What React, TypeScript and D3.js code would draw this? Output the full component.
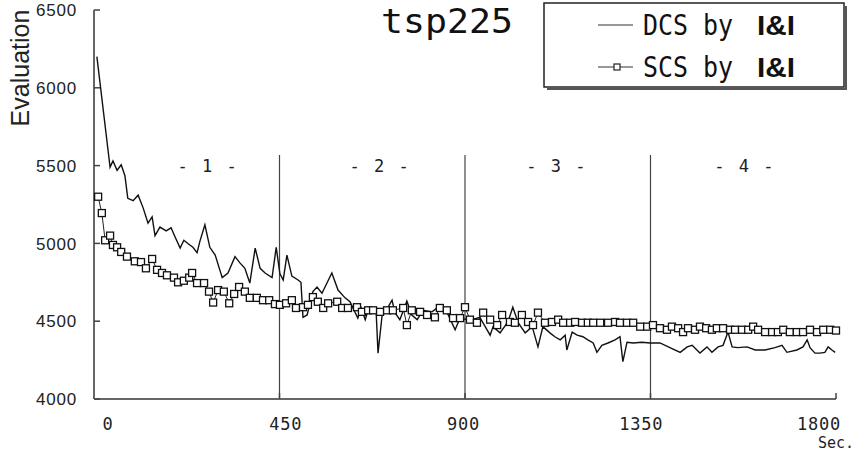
import React from 'react';
import * as d3 from 'd3';

// DCS by I&I : [seconds, evaluation]
const dcsSeries: [number, number][] = [
  [7, 6200], [34, 5600], [39, 5490], [46, 5530], [56, 5470], [66, 5505], [75, 5435], [82, 5290],
  [95, 5275], [107, 5310], [119, 5230], [131, 5130], [141, 5170], [148, 5050], [160, 5105], [175, 5080],
  [187, 5100], [197, 5040], [209, 4970], [218, 5020], [230, 4995], [240, 4975], [250, 4940], [257, 5015],
  [269, 5120], [281, 4975], [294, 4925], [311, 4780], [325, 4810], [342, 4915], [354, 4875], [366, 4840],
  [378, 4745], [391, 4970], [403, 4840], [415, 4810], [432, 4780], [442, 4975], [451, 4805], [459, 4765],
  [468, 4925], [480, 4790], [495, 4765], [502, 4750], [507, 4525], [517, 4540], [531, 4690], [541, 4720],
  [553, 4680], [577, 4810], [592, 4700], [609, 4650], [621, 4625], [640, 4520], [648, 4585], [658, 4510],
  [667, 4590], [684, 4585], [689, 4295], [699, 4540], [711, 4580], [723, 4635], [730, 4555], [742, 4510],
  [759, 4630], [771, 4540], [784, 4510], [798, 4570], [820, 4560], [835, 4590], [856, 4560], [876, 4445],
  [888, 4520], [905, 4510], [917, 4510], [936, 4525], [949, 4465], [961, 4410], [968, 4465], [985, 4425],
  [1004, 4495], [1016, 4590], [1029, 4490], [1046, 4425], [1063, 4465], [1077, 4335], [1089, 4465], [1106, 4425],
  [1118, 4400], [1131, 4380], [1143, 4410], [1147, 4315], [1160, 4430], [1172, 4410], [1186, 4400], [1198, 4380],
  [1211, 4360], [1220, 4300], [1232, 4345], [1247, 4360], [1264, 4380], [1276, 4400], [1283, 4240], [1293, 4365],
  [1308, 4360], [1329, 4365], [1349, 4360], [1373, 4360], [1397, 4330], [1422, 4300], [1439, 4335], [1451, 4345],
  [1470, 4295], [1487, 4335], [1499, 4300], [1514, 4335], [1526, 4345], [1538, 4430], [1548, 4335], [1562, 4330],
  [1584, 4335], [1604, 4315], [1628, 4315], [1652, 4330], [1669, 4345], [1681, 4300], [1705, 4315], [1720, 4335],
  [1730, 4380], [1737, 4330], [1749, 4295], [1761, 4295], [1773, 4300], [1781, 4335], [1790, 4315], [1798, 4300],
];

// SCS by I&I : [seconds, evaluation]
const scsSeries: [number, number][] = [
  [10, 5300], [19, 5195], [27, 5020], [39, 5050], [46, 4990], [56, 4975], [66, 4945], [80, 4915],
  [99, 4885], [114, 4880], [126, 4840], [141, 4900], [153, 4830], [165, 4810], [177, 4795], [194, 4780],
  [204, 4750], [218, 4760], [231, 4780], [238, 4810], [250, 4745], [267, 4745], [279, 4690], [289, 4620],
  [301, 4700], [315, 4690], [328, 4615], [340, 4675], [352, 4720], [366, 4690], [378, 4650], [395, 4650],
  [410, 4635], [425, 4635], [439, 4610], [451, 4605], [466, 4615], [480, 4635], [490, 4585], [507, 4590],
  [519, 4605], [531, 4655], [543, 4625], [556, 4585], [568, 4615], [590, 4625], [602, 4585], [616, 4585],
  [638, 4590], [650, 4560], [665, 4570], [677, 4570], [694, 4560], [711, 4570], [725, 4570], [750, 4585],
  [759, 4475], [771, 4570], [791, 4560], [808, 4540], [827, 4525], [839, 4585], [856, 4570], [871, 4520],
  [888, 4520], [900, 4590], [912, 4510], [929, 4490], [944, 4555], [961, 4510], [978, 4475], [990, 4540],
  [1009, 4495], [1021, 4490], [1038, 4540], [1053, 4495], [1065, 4475], [1077, 4555], [1094, 4490], [1111, 4495],
  [1126, 4510], [1138, 4490], [1155, 4490], [1167, 4495], [1184, 4490], [1198, 4490], [1211, 4490], [1228, 4490],
  [1247, 4490], [1264, 4495], [1276, 4490], [1293, 4490], [1308, 4490], [1325, 4465], [1342, 4465], [1356, 4475],
  [1373, 4455], [1390, 4445], [1402, 4465], [1417, 4455], [1429, 4430], [1441, 4455], [1458, 4445], [1470, 4465],
  [1485, 4455], [1499, 4445], [1511, 4455], [1526, 4455], [1543, 4445], [1555, 4445], [1572, 4445], [1587, 4445],
  [1599, 4465], [1611, 4445], [1628, 4430], [1645, 4430], [1659, 4430], [1672, 4445], [1688, 4430], [1705, 4430],
  [1720, 4430], [1737, 4445], [1754, 4430], [1769, 4445], [1786, 4445], [1800, 4440],
];

const yTicks = [4000, 4500, 5000, 5500, 6000, 6500];
const xTicks = [0, 450, 900, 1350, 1800];
const dividers = [450, 900, 1350];
const sectionNames = ['1', '2', '3', '4'];
const sectionLabelAt = [277, 694, 1123, 1579];
const legendNames = ['DCS', 'SCS'];

const W = 854;
const H = 455;

const x = d3.scaleLinear().domain([0, 1800]).range([94, 836]);
const y = d3.scaleLinear().domain([4000, 6500]).range([399, 10]);
// tick labels sit on their own evenly spaced row in the original
const xLabel = d3.scaleLinear().domain([0, 1800]).range([108, 819]);

const line = d3
  .line<[number, number]>()
  .x((d) => x(d[0]))
  .y((d) => y(d[1]));

const mono = '"DejaVu Sans Mono", "Liberation Mono", monospace';
const sans = '"Liberation Sans", Arial, sans-serif';
const SQ = 7;

const App = () => {
  const [x0, x1] = x.range();
  const [yBottom, yTop] = y.range();

  return (
    <svg
      width={W}
      height={H}
      style={{ position: 'absolute', left: 0, top: 0, background: '#fff' }}
    >
      {/* dividers between phases */}
      {dividers.map((t) => (
        <line key={t} x1={x(t)} x2={x(t)} y1={155} y2={yBottom} stroke="#444" strokeWidth={1.2} />
      ))}

      {/* axes */}
      <line x1={x0} x2={x0} y1={yTop} y2={yBottom} stroke="#666" strokeWidth={2} />
      <line x1={x0} x2={x1} y1={yBottom} y2={yBottom} stroke="#666" strokeWidth={2} />
      {yTicks.map((v) => (
        <g key={v}>
          <line x1={x0} x2={x0 + 6} y1={y(v)} y2={y(v)} stroke="#444" strokeWidth={1.5} />
          <text
            x={77}
            y={y(v)}
            dy="0.36em"
            textAnchor="end"
            fontFamily={sans}
            fontSize={17}
            letterSpacing={0.8}
            fill="#222"
          >
            {v}
          </text>
        </g>
      ))}
      {xTicks.slice(1).map((t) => (
        <line key={t} x1={x(t)} x2={x(t)} y1={yBottom} y2={yBottom - 6} stroke="#444" strokeWidth={1.5} />
      ))}
      {xTicks.map((t) => (
        <text
          key={t}
          x={xLabel(t)}
          y={430}
          textAnchor="middle"
          fontFamily={mono}
          fontSize={17}
          letterSpacing={0.8}
          fill="#222"
        >
          {t}
        </text>
      ))}
      <text x={836} y={448} textAnchor="middle" fontFamily={mono} fontSize={15} fill="#222">
        Sec.
      </text>
      <text
        transform="translate(29,68) rotate(-90)"
        textAnchor="middle"
        fontFamily={sans}
        fontSize={25}
        fill="#222"
      >
        Evaluation
      </text>

      {/* phase labels */}
      {sectionNames.map((s, i) => (
        <text
          key={s}
          x={x(sectionLabelAt[i])}
          y={172}
          textAnchor="middle"
          fontFamily={mono}
          fontSize={17}
          letterSpacing={2}
          fill="#222"
        >
          {`- ${s} -`}
        </text>
      ))}

      {/* DCS */}
      <path d={line(dcsSeries) ?? ''} fill="none" stroke="#111" strokeWidth={1.4} />

      {/* SCS */}
      <path d={line(scsSeries) ?? ''} fill="none" stroke="#222" strokeWidth={1} />
      {scsSeries.map((d, i) => (
        <rect
          key={i}
          x={x(d[0]) - SQ / 2}
          y={y(d[1]) - SQ / 2}
          width={SQ}
          height={SQ}
          fill="#fff"
          stroke="#111"
          strokeWidth={1.3}
        />
      ))}

      {/* title */}
      <text x={381} y={33} fontFamily={mono} fontSize={33} textLength={132} lengthAdjust="spacingAndGlyphs" fill="#111">
        tsp225
      </text>

      {/* legend */}
      <line x1={547} x2={847} y1={89} y2={89} stroke="#555" strokeWidth={2} />
      <line x1={846} x2={846} y1={6} y2={89} stroke="#555" strokeWidth={2} />
      <rect x={544} y={3} width={300} height={84} fill="#fff" stroke="#222" strokeWidth={1.5} />
      {legendNames.map((name, i) => {
        const ly = 25 + i * 42;
        return (
          <g key={name}>
            <line x1={598} x2={633} y1={ly} y2={ly} stroke="#333" strokeWidth={1.2} />
            {i === 1 && (
              <rect x={614} y={ly - 3} width={6} height={6} fill="#fff" stroke="#222" strokeWidth={1.2} />
            )}
            <text
              x={643}
              y={ly + 10}
              fontFamily={mono}
              fontSize={29}
              textLength={90}
              lengthAdjust="spacingAndGlyphs"
              fill="#111"
            >
              {`${name} by`}
            </text>
            <text
              x={757}
              y={ly + 10}
              fontFamily={sans}
              fontSize={28}
              fontWeight="bold"
              textLength={38}
              lengthAdjust="spacingAndGlyphs"
              fill="#111"
            >
              I&amp;I
            </text>
          </g>
        );
      })}
    </svg>
  );
};

export default App;
